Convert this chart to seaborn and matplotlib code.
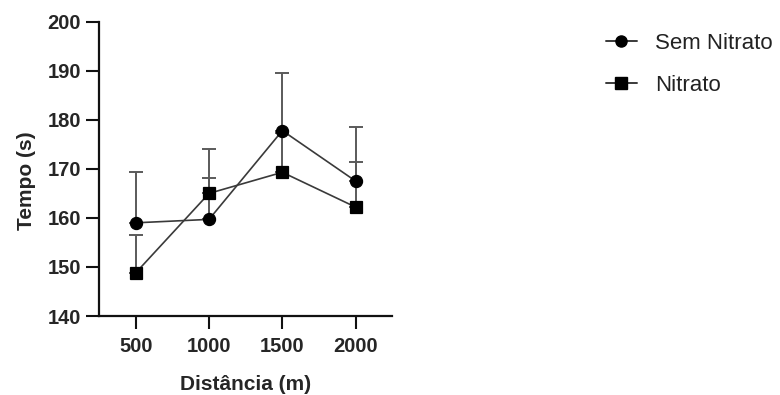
import numpy as np
import pandas as pd
import seaborn as sns
import matplotlib.pyplot as plt
from matplotlib.lines import Line2D

# Race distances and mean times (s) with SD, per group
distancias = ["500", "1000", "1500", "2000"]
sem_nitrato = [159.0, 159.7, 177.8, 167.5]
sem_nitrato_sd = [10.4, 8.5, 11.7, 11.0]
nitrato = [148.8, 165.0, 169.3, 162.2]
nitrato_sd = [7.7, 9.0, 8.0, 9.2]
grupos = ["Sem Nitrato", "Nitrato"]

sns.set_theme(style="ticks")
plt.rcParams["font.family"] = ["Liberation Sans", "DejaVu Sans"]

df = pd.DataFrame({
    "Distância (m)": distancias * 2,
    "Tempo (s)": sem_nitrato + nitrato,
    "Grupo": [grupos[0]] * 4 + [grupos[1]] * 4,
})

fig = plt.figure(figsize=(7.8, 3.95), dpi=100)
ax = fig.add_axes([0.127, 0.2, 0.376, 0.745])

line_col = "#3a3a3a"
err_col = "#5a5a5a"

# upper-only error bars, drawn beneath the markers
pos = np.arange(len(distancias))
for vals, sd in [(sem_nitrato, sem_nitrato_sd), (nitrato, nitrato_sd)]:
    ax.errorbar(pos, vals, yerr=[np.zeros(len(sd)), sd], fmt="none",
                ecolor=err_col, elinewidth=1.4, capsize=4.7, capthick=1.4,
                zorder=1)

sns.pointplot(data=df, x="Distância (m)", y="Tempo (s)", hue="Grupo",
              hue_order=grupos, order=distancias, errorbar=None,
              markers=["o", "s"], linestyles=["-", "-"],
              palette=[line_col, line_col], dodge=False, ax=ax,
              linewidth=1.2, markersize=8.7, legend=False, zorder=3)

for ln in ax.lines[-2:]:
    ln.set_markerfacecolor("black")
    ln.set_markeredgecolor("black")
    ln.set_zorder(3)

ax.set_xlim(-0.5, 3.5)
ax.set_ylim(140, 200)
ax.set_yticks(np.arange(140, 201, 10))
sns.despine(ax=ax)
for s in ["left", "bottom"]:
    ax.spines[s].set_linewidth(1.6)
    ax.spines[s].set_color("#111111")
ax.tick_params(axis="both", length=9.5, width=1.5, color="#111111",
               labelsize=14.5)
ax.tick_params(axis="x", pad=5.5)
ax.tick_params(axis="y", pad=3.5)
for lab in ax.get_xticklabels() + ax.get_yticklabels():
    lab.set_fontweight("bold")
ax.set_xlabel("Distância (m)", fontsize=15, fontweight="bold", labelpad=14)
ax.set_ylabel("Tempo (s)", fontsize=15, fontweight="bold")
ax.yaxis.set_label_coords(-0.215, 0.46)

handles = [Line2D([], [], color=line_col, lw=1.4, marker=m, markersize=8,
                  markerfacecolor="black", markeredgecolor="black")
           for m in ["o", "s"]]
fig.legend(handles, grupos, loc="upper left", bbox_to_anchor=(0.751, 0.968),
           frameon=False, fontsize=16, handlelength=1.4, handletextpad=0.8,
           labelspacing=0.95, labelcolor="#222222")

fig.savefig("out.png", dpi=100)
